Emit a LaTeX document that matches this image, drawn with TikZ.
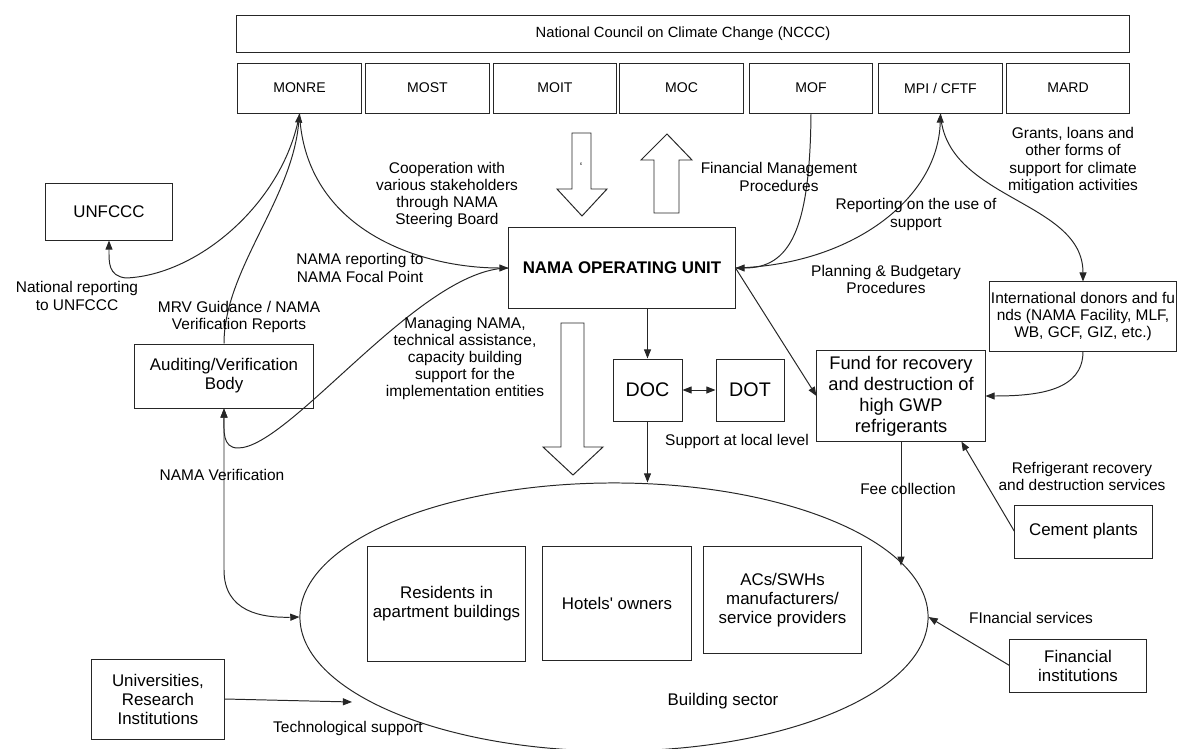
\documentclass[tikz,border=0pt]{standalone}
\usepackage{fontspec}
\setmainfont{Liberation Sans}
\usetikzlibrary{arrows.meta,shapes.geometric}
\newcommand{\fsz}[2]{\fontsize{#1}{#2}\selectfont}

\begin{document}
\begin{tikzpicture}[x=0.025cm, y=-0.025cm, line width=0.7pt, draw=black!85,
    >={Triangle[length=6.5pt,width=5pt]},
    box/.style={draw, rectangle, align=center, inner sep=1pt},
    minbox/.style={box, minimum width=3.08cm, minimum height=1.25cm, font={\fsz{10}{12}}},
    lbl/.style={align=center, inner sep=0pt, font={\fsz{11}{12.2}}},
    txt/.style={font={\fsz{12}{13.5}}}]
  \useasboundingbox (0,0) rectangle (1179,749);

  \node[box, minimum width=22.3cm, minimum height=0.925cm, font={\fsz{10.5}{12}}] (nccc) at (683,33.5) {National Council on Climate Change (NCCC)};
  \foreach \nm/\txt/\xx in {monre/MONRE/299.5, most/MOST/427.5, moit/MOIT/555, moc/MOC/681.5,
      mof/MOF/811, mpi/{MPI / CFTF}/940.5, mard/MARD/1068}
    \node[minbox] (\nm) at (\xx,88) {\txt};

  \node[box, txt, minimum width=3.15cm, minimum height=1.425cm] (unfccc) at (109,211.5) {UNFCCC};
  \node[box, txt, minimum width=4.45cm, minimum height=1.6cm] (audit) at (224,376) {Auditing/Verification\\Body};
  \node[box, minimum width=5.65cm, minimum height=2cm, font={\fsz{12}{14}\bfseries}] (nama) at (622,268) {NAMA OPERATING UNIT};
  \node[box, minimum width=1.725cm, minimum height=1.55cm, font={\fsz{14}{16}}] (doc) at (647.5,390) {DOC};
  \node[box, minimum width=1.7cm, minimum height=1.55cm, font={\fsz{14}{16}}] (dot) at (750,390) {DOT};
  \node[box, minimum width=4.2cm, minimum height=2.25cm, font={\fsz{13}{15}}] (fund) at (901,396) {Fund for recovery\\and destruction of\\high GWP\\refrigerants};
  \node[box, minimum width=4.65cm, minimum height=1.725cm, font={\fsz{11}{12.2}}] (intl) at (1083,316.5) {International donors and fu\\nds (NAMA Facility, MLF,\\WB, GCF, GIZ, etc.)};
  \node[box, txt, minimum width=3.425cm, minimum height=1.325cm] (cement) at (1083.5,531.5) {Cement plants};
  \node[box, txt, minimum width=3.4cm, minimum height=1.325cm] (fin) at (1078,665.5) {Financial\\institutions};
  \node[box, txt, minimum width=3.3cm, minimum height=2cm] (uni) at (158,699) {Universities,\\Research\\Institutions};

  \node[draw, ellipse, minimum width=15.7cm, minimum height=6.7cm] (bsec) at (614,617) {};
  \node[box, txt, minimum width=3.925cm, minimum height=2.85cm] (resid) at (446.5,604) {Residents in\\apartment buildings};
  \node[box, txt, minimum width=3.7cm, minimum height=2.825cm] (hotel) at (617,603.5) {Hotels\textquotesingle{} owners};
  \node[box, txt, minimum width=3.925cm, minimum height=2.65cm] (acs) at (782.5,600) {ACs/SWHs\\manufacturers/\\service providers};
  \node[txt] (bsectxt) at (723,701) {Building sector};

  \draw (572,133) -- (591,133) -- (591,189) -- (607,189) -- (582,216) -- (557,189) -- (572,189) -- cycle;
  \node[font={\fsz{8}{9}}] (tick) at (581,167) {`};
  \draw (654,213) -- (679,213) -- (679,160) -- (692,160) -- (667,134) -- (641,160) -- (654,160) -- cycle;
  \draw (561,323) -- (584,323) -- (584,447) -- (603,447) -- (573,475) -- (543,447) -- (561,447) -- cycle;

  \draw[->] (monre.south) .. controls (285,200) and (200,275) .. (126,278)
    .. controls (108,276) and (109,262) .. (unfccc.south);
  \draw[->] (audit.north) .. controls (224,270) and (292,200) .. (monre.south);
  \draw[->] (monre.south) .. controls (305,230) and (420,268) .. (nama.west);
  \draw[->] (nama.west) .. controls (420,268) and (290,448) .. (238,448)
    .. controls (222,448) and (224,430) .. (audit.south);
  \draw[<->] (audit.south) -- (224,570) .. controls (224,612) and (262,618) .. (bsec.west);

  \draw[->] (mof.south) .. controls (810,230) and (790,268) .. (nama.east);
  \draw[->] (nama.east) .. controls (850,265) and (938,200) .. (mpi.south);
  \draw[->] (mpi.south) .. controls (945,200) and (1083,200) .. (intl.north);
  \draw[->] (intl.south) .. controls (1083,390) and (1040,396) .. (fund.east);
  \draw[->] (nama.east) -- (fund.west);
  \draw[->] (nama.south -| doc.north) -- (doc.north);
  \draw[<->] (doc.east) -- (dot.west);
  \draw[->] (doc.south) -- (doc.south |- bsec.north);
  \draw[->] (fund.south) -- (fund.south |- bsec.10.8);
  \draw[->] (cement.west) -- (fund.-37.3);
  \draw[->] (fin.west) -- (bsec.east);
  \coordinate (techend) at (352,702);
  \draw[->] (uni.east) -- (techend);

  \node[lbl] (coop) at (447,195) {Cooperation with\\various stakeholders\\through NAMA\\Steering Board};
  \node[lbl] (focal) at (360,268) {NAMA reporting to\\NAMA Focal Point};
  \node[lbl] (natrep) at (77,296) {National reporting\\to UNFCCC};
  \node[lbl] (mrv) at (239,317) {MRV Guidance / NAMA\\Verification Reports};
  \node[lbl] (manage) at (465,358.5) {Managing NAMA,\\technical assistance,\\capacity building\\support for the\\implementation entities};
  \node[lbl] (nverif) at (222,475) {NAMA Verification};
  \node[lbl] (finmgmt) at (779,177) {Financial Management\\Procedures};
  \node[lbl] (grants) at (1073,160.5) {Grants, loans and\\other forms of\\support for climate\\mitigation activities};
  \node[lbl] (repuse) at (916,214.5) {Reporting on the use of\\support};
  \node[lbl] (plan) at (886,279.5) {Planning \& Budgetary\\Procedures};
  \node[lbl] (local) at (737,441) {Support at local level};
  \node[lbl] (fee) at (908,489) {Fee collection};
  \node[lbl] (refrig) at (1082,476.5) {Refrigerant recovery\\and destruction services};
  \node[lbl] (finserv) at (1031,618) {FInancial services};
  \node[lbl] (tech) at (348,728) {Technological support};
\end{tikzpicture}
\end{document}
